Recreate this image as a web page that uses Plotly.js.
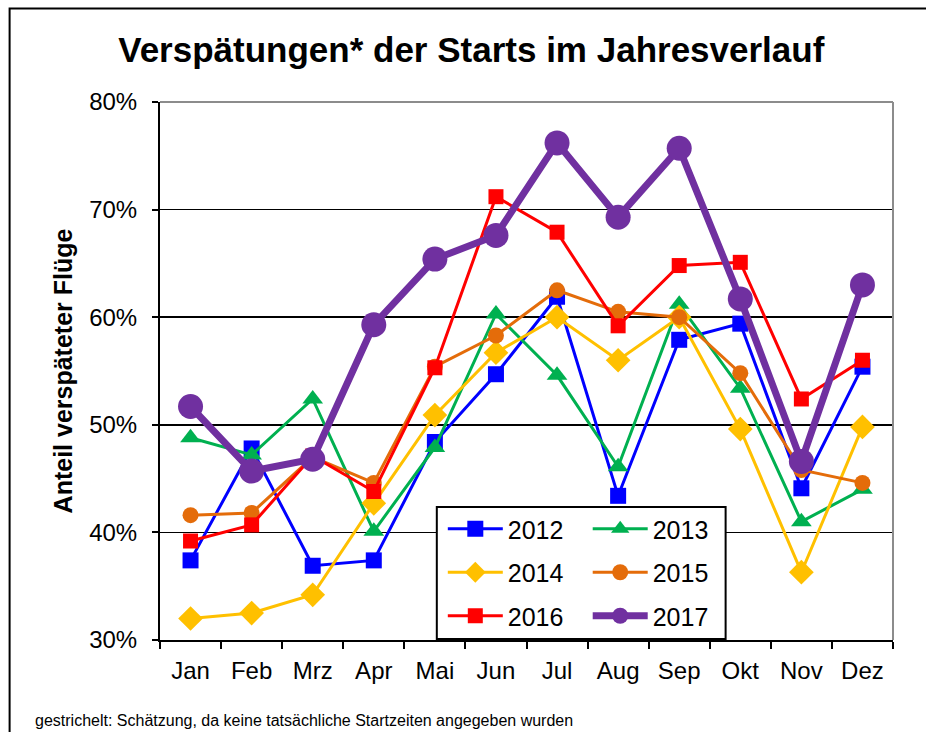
<!DOCTYPE html>
<html>
<head>
<meta charset="utf-8">
<script src="https://cdn.plot.ly/plotly-3.0.1.min.js"></script>
<style>
  html, body { margin: 0; padding: 0; background: #fff; }
  #chart { width: 926px; height: 732px; }
</style>
</head>
<body>
<div id="chart"></div>
<script>
const months = ['Jan','Feb','Mrz','Apr','Mai','Jun','Jul','Aug','Sep','Okt','Nov','Dez'];

const v2012 = [37.4, 47.8, 36.9, 37.4, 48.4, 54.7, 61.9, 43.4, 57.9, 59.4, 44.1, 55.4];
const v2013 = [48.8, 47.2, 52.4, 40.1, 47.9, 60.3, 54.6, 46.1, 61.2, 53.4, 41.0, 44.0];
const v2014 = [32.0, 32.5, 34.2, 42.7, 50.9, 56.7, 60.0, 56.0, 60.0, 49.6, 36.3, 49.8];
const v2015 = [41.6, 41.8, 47.0, 44.6, 55.4, 58.3, 62.5, 60.5, 60.0, 54.8, 45.8, 44.6];
const v2016 = [39.2, 40.7, 47.1, 43.8, 55.3, 71.2, 67.9, 59.2, 64.8, 65.1, 52.4, 56.0];
const v2017 = [51.7, 45.7, 46.8, 59.3, 65.4, 67.6, 76.2, 69.3, 75.7, 61.7, 46.6, 63.0];

const yTickVals = [30, 40, 50, 60, 70, 80];
const yTickText = ['30%', '40%', '50%', '60%', '70%', '80%'];

const titleText = 'Verspätungen* der Starts im Jahresverlauf';
const yTitleText = 'Anteil verspäteter Flüge';
const footText = 'gestrichelt: Schätzung, da keine tatsächliche Startzeiten angegeben wurden';

// Pixel layout
const W = 926, H = 732;
const L = 160, R = 32.5, T = 102, B = 92;
const PW = W - L - R, PH = H - T - B;
const px = x => (x - L) / PW;
const py = y => (H - B - y) / PH;

const FF = 'Liberation Sans, Arial, sans-serif';

function tr(name, y, color, symbol, msize, lw, legend) {
  return {
    type: 'scatter', mode: 'lines+markers', name: name,
    x: months, y: y,
    line: { color: color, width: lw },
    marker: { color: color, symbol: symbol, size: msize, line: { width: 0 } },
    legend: legend, legendgroup: name,
    cliponaxis: false
  };
}

const data = [
  tr('2012', v2012, '#0000FF', 'square', 16, 3, 'legend'),
  tr('2013', v2013, '#00B050', 'triangle-up', 18, 3, 'legend2'),
  tr('2014', v2014, '#FFC000', 'diamond', 19, 3, 'legend'),
  tr('2015', v2015, '#E46C0A', 'circle', 16, 3, 'legend2'),
  tr('2016', v2016, '#FF0000', 'square', 15, 3, 'legend'),
  tr('2017', v2017, '#7030A0', 'circle', 25, 7, 'legend2')
];

const legFont = { family: FF, size: 25, color: '#000' };
const legCommon = {
  orientation: 'v', bgcolor: 'rgba(0,0,0,0)', borderwidth: 0,
  font: legFont, tracegroupgap: 8, xanchor: 'left', yanchor: 'top', itemwidth: 55
};

const layout = {
  width: W, height: H,
  margin: { l: L, r: R, t: T, b: B, pad: 0 },
  paper_bgcolor: '#fff', plot_bgcolor: '#fff',
  showlegend: true,
  font: { family: FF, color: '#000' },
  title: {
    text: titleText,
    font: { family: FF, size: 35, color: '#000', weight: 'bold' },
    xref: 'paper', x: px(471.5), xanchor: 'center',
    yref: 'container', y: 1 - 50 / H, yanchor: 'middle'
  },
  xaxis: {
    type: 'category', categoryorder: 'array', categoryarray: months,
    range: [-0.5, 11.5],
    showline: true, linecolor: '#000', linewidth: 2,
    ticks: 'outside', tickson: 'boundaries', ticklen: 7, tickwidth: 2, tickcolor: '#000',
    tickfont: { family: FF, size: 24, color: '#000' },
    ticklabelstandoff: 8,
    showgrid: false, zeroline: false, fixedrange: true
  },
  yaxis: {
    range: [30, 80],
    tickvals: yTickVals, ticktext: yTickText,
    showline: true, linecolor: '#000', linewidth: 2,
    ticks: 'outside', ticklen: 6, tickwidth: 2, tickcolor: '#000',
    tickfont: { family: FF, size: 24, color: '#000' },
    ticklabelstandoff: 10,
    showgrid: true, gridcolor: '#000', gridwidth: 1.5,
    zeroline: false, fixedrange: true,
    title: {
      text: yTitleText,
      font: { family: FF, size: 25, color: '#000', weight: 'bold' },
      standoff: 9
    }
  },
  legend: Object.assign({}, legCommon, { x: px(443), y: py(506) }),
  legend2: Object.assign({}, legCommon, { x: px(588), y: py(506) }),
  shapes: [
    { type: 'line', xref: 'paper', yref: 'paper', x0: 0, x1: 1, y0: 1, y1: 1,
      line: { color: '#8c8c8c', width: 2 }, layer: 'above' },
    { type: 'line', xref: 'paper', yref: 'paper', x0: 1, x1: 1, y0: 0, y1: 1,
      line: { color: '#8c8c8c', width: 2 }, layer: 'above' },
    { type: 'rect', xref: 'paper', yref: 'paper',
      x0: px(437), x1: px(726), y0: py(507), y1: py(639),
      fillcolor: '#fff', line: { color: '#000', width: 2 }, layer: 'above' },
    { type: 'rect', xref: 'paper', yref: 'paper',
      x0: px(9.5), x1: px(940), y0: py(8.5), y1: py(745),
      fillcolor: 'rgba(0,0,0,0)', line: { color: '#000', width: 2 }, layer: 'above' }
  ],
  annotations: [
    { text: footText, xref: 'paper', yref: 'paper', x: px(33), y: py(720),
      xanchor: 'left', yanchor: 'middle', showarrow: false,
      font: { family: FF, size: 16, color: '#000' } }
  ]
};

Plotly.newPlot('chart', data, layout, { displayModeBar: false, staticPlot: true });
</script>
</body>
</html>
